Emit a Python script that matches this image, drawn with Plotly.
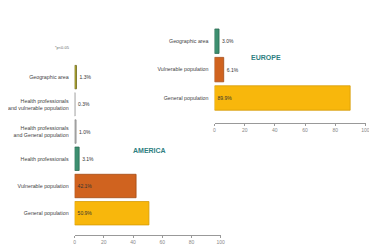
import plotly.graph_objects as go

# America data (top to bottom)
am_categories = [
    "Geographic area",
    "Health professionals<br>and vulnerable population",
    "Health professionals<br>and General population",
    "Health professionals",
    "Vulnerable population",
    "General population",
]
am_values = [1.3, 0.3, 1.0, 3.1, 42.1, 50.9]
am_labels = ["1.3%", "0.3%", "1.0%", "3.1%", "42.1%", "50.9%"]
am_colors = ["#a89f2c", "#c4c4c4", "#b0b0b0", "#3d8f70", "#d0631f", "#f8b70c"]
am_lines = ["#6e6a1c", "#9a9a9a", "#8a8a8a", "#2a6a52", "#a34a14", "#d69a05"]

# Europe data (top to bottom)
eu_categories = ["Geographic area", "Vulnerable population", "General population"]
eu_values = [3.0, 6.1, 89.9]
eu_labels = ["3.0%", "6.1%", "89.9%"]
eu_colors = ["#3d8f70", "#d0631f", "#f8b70c"]
eu_lines = ["#2a6a52", "#a34a14", "#d69a05"]

x_ticks = [0, 20, 40, 60, 80, 100]

OFF = 8  # page body margin
W, H = 377 - OFF, 250 - OFF


def px(x):
    return (x - OFF) / W


def py(y):
    return 1 - (y - OFF) / H


def pos(vals, thr=20):
    return ["inside" if v > thr else "outside" for v in vals]


fig = go.Figure()
fig.add_trace(go.Bar(
    x=am_values, y=am_categories, orientation="h",
    marker=dict(color=am_colors, line=dict(color=am_lines, width=0.8)),
    text=am_labels, textposition=pos(am_values), insidetextanchor="start",
    textfont=dict(size=5, color="#333333"), cliponaxis=False,
    xaxis="x", yaxis="y", showlegend=False,
))
fig.add_trace(go.Bar(
    x=eu_values, y=eu_categories, orientation="h",
    marker=dict(color=eu_colors, line=dict(color=eu_lines, width=0.8)),
    text=eu_labels, textposition=pos(eu_values), insidetextanchor="start",
    textfont=dict(size=5, color="#333333"), cliponaxis=False,
    xaxis="x2", yaxis="y2", showlegend=False,
))

axis_common = dict(
    range=[0, 100.5], tickvals=x_ticks, ticks="outside", ticklen=2,
    tickcolor="#999999", showline=True, linecolor="#999999", linewidth=1,
    showgrid=False, zeroline=False,
    tickfont=dict(size=5, color="#888888"), fixedrange=True,
)
yaxis_common = dict(
    type="category", showgrid=False, zeroline=False, showline=False,
    ticks="", ticklabelstandoff=5,
    tickfont=dict(size=5.3, color="#444444"), fixedrange=True,
)

fig.update_layout(
    width=W, height=H,
    margin=dict(l=0, r=0, t=0, b=0),
    paper_bgcolor="white", plot_bgcolor="white",
    bargap=0.14,
    font=dict(family="Liberation Sans, Arial, sans-serif"),
    xaxis=dict(domain=[px(72), px(222)], anchor="y", **axis_common),
    yaxis=dict(domain=[py(235), py(63.5)], anchor="x",
               categoryarray=am_categories, range=[5.8, -0.5], **yaxis_common),
    xaxis2=dict(domain=[px(215), px(370)], anchor="y2", **axis_common),
    yaxis2=dict(domain=[py(123), py(27)], anchor="x2",
                categoryarray=eu_categories, range=[2.88, -0.5], **yaxis_common),
    annotations=[
        dict(text="<b>AMERICA</b>", x=px(130), y=py(150), xref="paper", yref="paper",
             showarrow=False, font=dict(size=7, color="#2f7f82")),
        dict(text="<b>EUROPE</b>", x=px(285), y=py(52), xref="paper", yref="paper",
             showarrow=False, font=dict(size=7, color="#2f7f82")),
        dict(text="*p<0.05", x=px(50), y=py(43), xref="paper", yref="paper",
             showarrow=False, font=dict(size=4, color="#666666")),
    ],
)

fig.write_html("out.html")
